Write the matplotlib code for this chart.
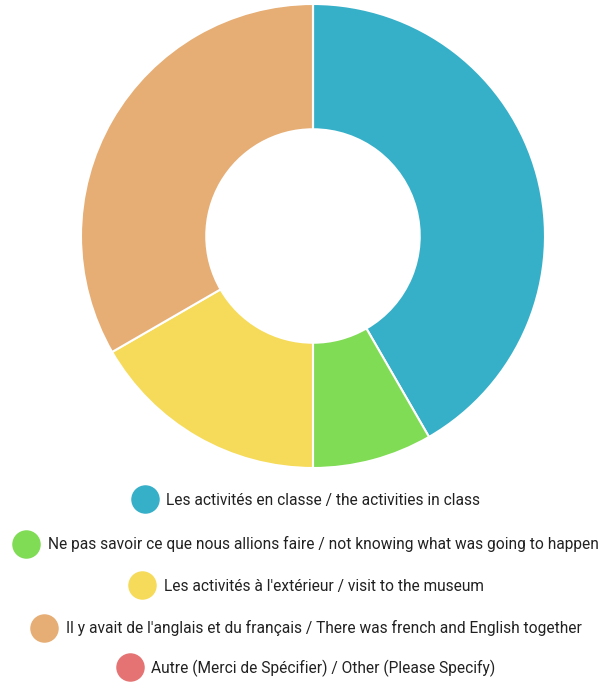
import matplotlib.pyplot as plt
from matplotlib.lines import Line2D
import matplotlib as mpl

mpl.rcParams['font.family'] = ['Roboto', 'DejaVu Sans']

labels = [
    "Les activités en classe / the activities in class",
    "Ne pas savoir ce que nous allions faire / not knowing what was going to happen",
    "Les activités à l'extérieur / visit to the museum",
    "Il y avait de l'anglais et du français / There was french and English together",
    "Autre (Merci de Spécifier) / Other (Please Specify)",
]
counts = [5, 1, 2, 4, 0]
colors = ["#36AFC8", "#80DB55", "#F6DB5A", "#E6AD74", "#E57373"]

fig = plt.figure(figsize=(6.01, 6.82), dpi=100)
ax = fig.add_axes((81 / 601, 1 - 468 / 682, 464 / 601, 464 / 682))
ax.pie(counts, colors=colors, startangle=90, counterclock=False, radius=1,
       wedgeprops=dict(width=0.54, edgecolor='white', linewidth=1.5))
ax.set_xlim(-1, 1)
ax.set_ylim(-1, 1)
ax.set_aspect('equal')
ax.axis('off')

# one centred legend per row, like the original
rows_y = [500, 544, 586, 628, 668]
for lab, col, y in zip(labels, colors, rows_y):
    h = Line2D([], [], linestyle='none', marker='o', markersize=19.5,
               markerfacecolor=col, markeredgecolor=col)
    fig.legend([h], [lab], loc='center', bbox_to_anchor=(306 / 601, 1 - y / 682),
               frameon=False, fontsize=11.2, handlelength=1.7, handletextpad=0.55,
               borderpad=0, borderaxespad=0, labelcolor='#222222')

fig.savefig("out.png", dpi=100)
